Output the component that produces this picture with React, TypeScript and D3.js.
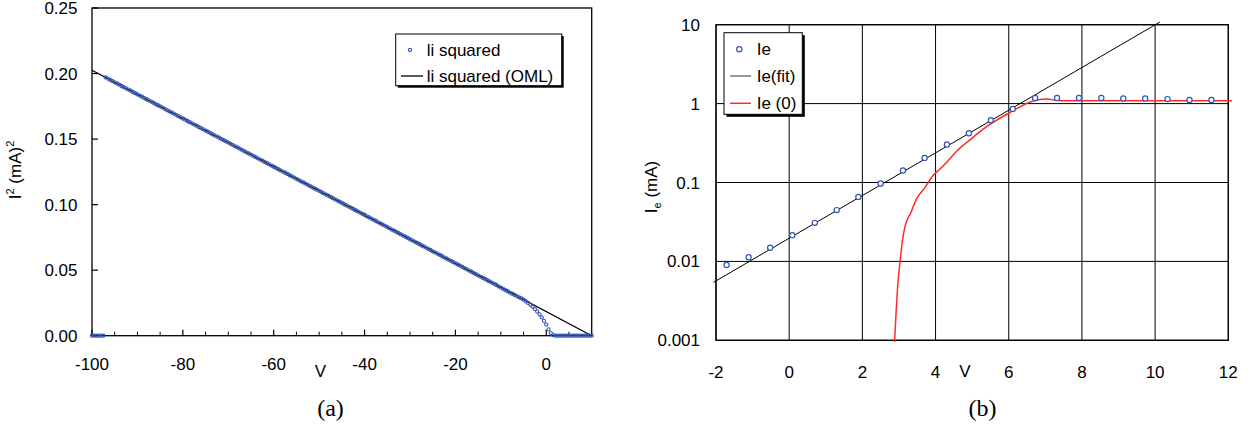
import React from "react";
import * as d3 from "d3";

// ---------- Panel (a) data ----------
const sweepV: number[] = [
  -100,-99.5,-99,-98.5,-98,-97.5,-97,-96.5,-96,-95.5,-95,-94.5,-94,-93.5,-93,-92.5,-92,-91.5,-91,-90.5,
  -90,-89.5,-89,-88.5,-88,-87.5,-87,-86.5,-86,-85.5,-85,-84.5,-84,-83.5,-83,-82.5,-82,-81.5,-81,-80.5,
  -80,-79.5,-79,-78.5,-78,-77.5,-77,-76.5,-76,-75.5,-75,-74.5,-74,-73.5,-73,-72.5,-72,-71.5,-71,-70.5,
  -70,-69.5,-69,-68.5,-68,-67.5,-67,-66.5,-66,-65.5,-65,-64.5,-64,-63.5,-63,-62.5,-62,-61.5,-61,-60.5,
  -60,-59.5,-59,-58.5,-58,-57.5,-57,-56.5,-56,-55.5,-55,-54.5,-54,-53.5,-53,-52.5,-52,-51.5,-51,-50.5,
  -50,-49.5,-49,-48.5,-48,-47.5,-47,-46.5,-46,-45.5,-45,-44.5,-44,-43.5,-43,-42.5,-42,-41.5,-41,-40.5,
  -40,-39.5,-39,-38.5,-38,-37.5,-37,-36.5,-36,-35.5,-35,-34.5,-34,-33.5,-33,-32.5,-32,-31.5,-31,-30.5,
  -30,-29.5,-29,-28.5,-28,-27.5,-27,-26.5,-26,-25.5,-25,-24.5,-24,-23.5,-23,-22.5,-22,-21.5,-21,-20.5,
  -20,-19.5,-19,-18.5,-18,-17.5,-17,-16.5,-16,-15.5,-15,-14.5,-14,-13.5,-13,-12.5,-12,-11.5,-11,-10.5,
  -10,-9.5,-9,-8.5,-8,-7.5,-7,-6.5,-6,-5.5,-5,-4.5,-4,-3.5,-3,-2.5,-2,-1.5,-1,-0.5,
  0,0.5,1,1.5,2,2.5,3,3.5,4,4.5,5,5.5,6,6.5,7,7.5,8,8.5,9,9.5,10
];
const iiSquared: number[] = [
  0,0,0,0,0,0,0.1970,0.1961,0.1951,0.1942,0.1933,0.1924,0.1915,0.1905,0.1896,0.1887,0.1878,0.1869,0.1859,0.1850,
  0.1841,0.1832,0.1823,0.1813,0.1804,0.1795,0.1786,0.1777,0.1767,0.1758,0.1749,0.1740,0.1731,0.1721,0.1712,0.1703,0.1694,0.1685,0.1675,0.1666,
  0.1657,0.1648,0.1638,0.1629,0.1620,0.1611,0.1602,0.1592,0.1583,0.1574,0.1565,0.1556,0.1546,0.1537,0.1528,0.1519,0.1510,0.1500,0.1491,0.1482,
  0.1473,0.1464,0.1454,0.1445,0.1436,0.1427,0.1418,0.1408,0.1399,0.1390,0.1381,0.1372,0.1362,0.1353,0.1344,0.1335,0.1326,0.1316,0.1307,0.1298,
  0.1289,0.1280,0.1270,0.1261,0.1252,0.1243,0.1234,0.1224,0.1215,0.1206,0.1197,0.1187,0.1178,0.1169,0.1160,0.1151,0.1141,0.1132,0.1123,0.1114,
  0.1105,0.1095,0.1086,0.1077,0.1068,0.1059,0.1049,0.1040,0.1031,0.1022,0.1013,0.1003,0.0994,0.0985,0.0976,0.0967,0.0957,0.0948,0.0939,0.0930,
  0.0921,0.0911,0.0902,0.0893,0.0884,0.0875,0.0865,0.0856,0.0847,0.0838,0.0829,0.0819,0.0810,0.0801,0.0792,0.0782,0.0773,0.0764,0.0755,0.0746,
  0.0736,0.0727,0.0718,0.0709,0.0700,0.0690,0.0681,0.0672,0.0663,0.0654,0.0644,0.0635,0.0626,0.0617,0.0608,0.0598,0.0589,0.0580,0.0571,0.0562,
  0.0552,0.0543,0.0534,0.0525,0.0515,0.0506,0.0497,0.0488,0.0479,0.0469,0.0460,0.0451,0.0442,0.0433,0.0423,0.0414,0.0405,0.0396,0.0387,0.0377,
  0.0366,0.0357,0.0348,0.0339,0.0329,0.0320,0.0311,0.0302,0.0293,0.0284,0.0275,0.0262,0.0250,0.0236,0.0221,0.0203,0.0184,0.0163,0.0140,0.0113,
  0.0085,0.0048,0.0020,0.0004,0,0,0,0,0,0,0,0,0,0,0,0,0,0,0,0,0
];
const omlV: number[] = [-100, 10];
const omlI2: number[] = [0.2025, 0];
const aXTicks: number[] = [-100, -80, -60, -40, -20, 0];
const aXMinor: number[] = [-95,-90,-85,-75,-70,-65,-55,-50,-45,-35,-30,-25,-15,-10,-5,5];
const aYTicks: number[] = [0, 0.05, 0.1, 0.15, 0.2, 0.25];

// ---------- Panel (b) data ----------
const ieV: number[] = [-1.71,-1.11,-0.52,0.085,0.70,1.30,1.89,2.50,3.11,3.70,4.31,4.91,5.51,6.11,6.72,7.32,7.92,8.53,9.13,9.73,10.34,10.94,11.54];
const ieI: number[] = [0.0090,0.0113,0.0149,0.0215,0.0308,0.0447,0.0657,0.097,0.142,0.205,0.303,0.421,0.616,0.857,1.18,1.18,1.18,1.18,1.16,1.16,1.14,1.11,1.11];
const fitV: number[] = [-2.07, 10.13];
const fitI: number[] = [0.00542, 10.8];
const ie0V: number[] = [2.88,2.92,2.96,3.03,3.10,3.16,3.33,3.48,3.70,3.92,4.12,4.30,4.58,4.95,5.30,6.03,6.67,7.03,7.40,12.1];
const ie0I: number[] = [0.00095,0.0022,0.0045,0.010,0.019,0.027,0.042,0.062,0.085,0.121,0.148,0.179,0.251,0.35,0.474,0.771,1.08,1.14,1.09,1.09];
const bXTicks: number[] = [-2, 0, 2, 4, 6, 8, 10, 12];
const bYTicks: number[] = [0.001, 0.01, 0.1, 1, 10];
const bYLabels: string[] = ["0.001", "0.01", "0.1", "1", "10"];

const FONT = "'Liberation Sans', Arial, sans-serif";
const SERIF = "'Liberation Serif', 'Times New Roman', serif";
const BLUE = "#3354b6";
const RED = "#ff2a2a";

export default function App() {
  // Panel (a) scales
  const ax = d3.scaleLinear().domain([-100, 10]).range([92, 591.7]);
  const ay = d3.scaleLinear().domain([0, 0.25]).range([335.7, 8]);
  const omlLine = d3.line<number>().x((_, i) => ax(omlV[i])).y((d) => ay(d));

  // Panel (b) scales
  const bx = d3.scaleLinear().domain([-2, 12]).range([716, 1228.3]);
  const by = d3.scaleLog().domain([0.001, 10]).range([340.3, 24.7]);
  const fitLine = d3.line<number>().x((_, i) => bx(fitV[i])).y((d) => by(d));
  const ie0Line = d3.line<number>().x((_, i) => bx(ie0V[i])).y((d) => by(d)).curve(d3.curveMonotoneX);

  const fs = 17;

  return (
    <svg width={1255} height={428} style={{ position: "absolute", left: 0, top: 0, background: "#fff" }} fontFamily={FONT}>
      <rect x={0} y={0} width={1255} height={428} fill="#fff" />
      {/* ================= Panel (a) ================= */}
      <g>
        <rect x={ax(-100)} y={ay(0.25)} width={ax(10) - ax(-100)} height={ay(0) - ay(0.25)} fill="none" stroke="#000" strokeWidth={1.3} />
        {aYTicks.map((t) => (
          <g key={"ay" + t}>
            <line x1={ax(-100)} x2={ax(-100) + 6} y1={ay(t)} y2={ay(t)} stroke="#000" strokeWidth={1.2} />
            <text x={77.5} y={ay(t) + 6} textAnchor="end" fontSize={fs} fill="#000">{t.toFixed(2)}</text>
          </g>
        ))}
        {aXTicks.map((t) => (
          <g key={"ax" + t}>
            <line x1={ax(t)} x2={ax(t)} y1={ay(0)} y2={ay(0) - 6} stroke="#000" strokeWidth={1.2} />
            <text x={ax(t)} y={370} textAnchor="middle" fontSize={fs} fill="#000">{t}</text>
          </g>
        ))}
        {aXMinor.map((t) => (
          <line key={"am" + t} x1={ax(t)} x2={ax(t)} y1={ay(0)} y2={ay(0) - 4} stroke="#000" strokeWidth={1} />
        ))}
        <path d={omlLine(omlI2) || ""} fill="none" stroke="#000" strokeWidth={1.3} />
        {iiSquared.map((d, i) => (
          <circle key={"p" + i} cx={ax(sweepV[i])} cy={ay(d)} r={1.6} fill="none" stroke={BLUE} strokeWidth={1.1} />
        ))}
        <text x={320.5} y={377} textAnchor="middle" fontSize={fs} fill="#000">V</text>
        <text transform="translate(21,170) rotate(-90)" textAnchor="middle" fontSize={fs} fill="#000">
          I<tspan fontSize={11} dy={-7}>2</tspan><tspan dy={7}> (mA)</tspan><tspan fontSize={11} dy={-7}>2</tspan>
        </text>
        {/* legend */}
        <rect x={397.7} y={36} width={166} height={51.7} fill="#000" />
        <rect x={395.7} y={34} width={166} height={51.7} fill="#fff" stroke="#000" strokeWidth={1} />
        <circle cx={410} cy={50} r={1.6} fill="none" stroke={BLUE} strokeWidth={1.1} />
        <text x={426.7} y={56} fontSize={fs} fill="#000">li squared</text>
        <line x1={401} x2={423} y1={76} y2={76} stroke="#000" strokeWidth={1.3} />
        <text x={426.7} y={82} fontSize={fs} fill="#000">li squared (OML)</text>
        <text x={330.5} y={416} textAnchor="middle" fontSize={24} fontFamily={SERIF} fill="#000">(a)</text>
      </g>

      {/* ================= Panel (b) ================= */}
      <g>
        {bXTicks.map((t) => (
          <g key={"bx" + t}>
            <line x1={bx(t)} x2={bx(t)} y1={by(10)} y2={by(0.001)} stroke="#000" strokeWidth={1} />
            <text x={bx(t)} y={378} textAnchor="middle" fontSize={fs} fill="#000">{t}</text>
          </g>
        ))}
        {bYTicks.map((t, i) => (
          <g key={"by" + t}>
            <line x1={bx(-2)} x2={bx(12)} y1={by(t)} y2={by(t)} stroke="#000" strokeWidth={1} />
            <text x={700} y={by(t) + 6} textAnchor="end" fontSize={fs} fill="#000">{bYLabels[i]}</text>
          </g>
        ))}
        <rect x={bx(-2)} y={by(10)} width={bx(12) - bx(-2)} height={by(0.001) - by(10)} fill="none" stroke="#000" strokeWidth={1.3} />
        <path d={fitLine(fitI) || ""} fill="none" stroke="#000" strokeWidth={1} />
        <path d={ie0Line(ie0I) || ""} fill="none" stroke={RED} strokeWidth={1.5} />
        {ieI.map((d, i) => (
          <circle key={"e" + i} cx={bx(ieV[i])} cy={by(d)} r={2.6} fill="#fff" stroke={BLUE} strokeWidth={1.2} />
        ))}
        <text x={965} y={377} textAnchor="middle" fontSize={fs} fill="#000">V</text>
        <text transform="translate(657,187) rotate(-90)" textAnchor="middle" fontSize={fs} fill="#000">
          I<tspan fontSize={11} dy={4}>e</tspan><tspan dy={-4}> (mA)</tspan>
        </text>
        {/* legend */}
        <rect x={726.5} y={35.2} width={78.3} height={81.6} fill="#000" />
        <rect x={724} y={32.7} width={78.3} height={81.6} fill="#fff" stroke="#000" strokeWidth={1} />
        <circle cx={739.3} cy={49.3} r={2.6} fill="#fff" stroke={BLUE} strokeWidth={1.2} />
        <text x={756.7} y={55.3} fontSize={fs} fill="#000">Ie</text>
        <line x1={730} x2={751} y1={76} y2={76} stroke="#555" strokeWidth={1.2} />
        <text x={756.7} y={82} fontSize={fs} fill="#000">Ie(fit)</text>
        <line x1={730} x2={751} y1={103.3} y2={103.3} stroke={RED} strokeWidth={1.5} />
        <text x={756.7} y={109.3} fontSize={fs} fill="#000">Ie (0)</text>
        <text x={982.5} y={416} textAnchor="middle" fontSize={24} fontFamily={SERIF} fill="#000">(b)</text>
      </g>
    </svg>
  );
}
